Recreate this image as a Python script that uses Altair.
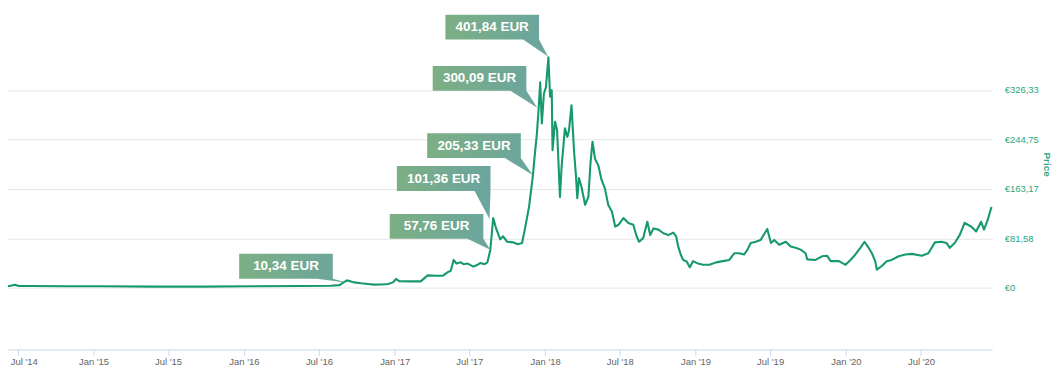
import altair as alt
import pandas as pd

# ---- price series (EUR) ----
dates_a = ["2014-05-24","2014-06-12","2014-06-24","2014-07-04","2014-08-05","2014-10-20","2015-01-21",
           "2015-05-24","2015-09-24","2016-01-18","2016-05-19","2016-07-30","2016-08-20","2016-08-30",
           "2016-09-07","2016-09-17","2016-09-24","2016-10-11","2016-10-28","2016-11-12","2016-11-29",
           "2016-12-16","2016-12-28"]
prices_a = [3, 3, 5, 3, 3, 2.5, 2.5, 2, 2, 2.5, 3, 3.5, 4.5, 9, 12.3, 10.5, 9, 7.5, 6.4, 5.3, 5.5, 6.4, 9]

dates_b = ["2017-01-04","2017-01-12","2017-02-10","2017-03-05","2017-03-22","2017-04-11","2017-04-28",
           "2017-05-10","2017-05-17","2017-05-24","2017-05-31","2017-06-10","2017-06-17","2017-06-27",
           "2017-07-11","2017-07-21","2017-07-28","2017-08-07","2017-08-14","2017-08-21","2017-08-28",
           "2017-09-04","2017-09-14","2017-09-21","2017-10-01","2017-10-15","2017-10-27","2017-11-06",
           "2017-11-14","2017-11-23","2017-12-02","2017-12-08","2017-12-12","2017-12-16","2017-12-20",
           "2017-12-24","2017-12-29"]
prices_b = [14.6, 11, 10.7, 10.7, 20.5, 20, 20, 26, 28, 46, 40, 42, 39, 40, 35, 38, 41, 39, 42, 62.8,
            115, 98, 80, 85, 76, 75, 72, 74, 101, 134, 183, 227, 254, 293, 339, 271, 320]

dates_c = ["2018-01-03","2018-01-09","2018-01-13","2018-01-17","2018-01-19","2018-01-25","2018-01-30",
           "2018-02-06","2018-02-10","2018-02-18","2018-02-24","2018-02-28","2018-03-06","2018-03-12",
           "2018-03-17","2018-03-20","2018-03-24","2018-03-30","2018-04-08","2018-04-16","2018-04-21",
           "2018-04-26","2018-05-02","2018-05-10","2018-05-18","2018-05-26","2018-06-03","2018-06-12",
           "2018-06-20","2018-06-28","2018-07-10","2018-07-22","2018-08-03","2018-08-11","2018-08-17",
           "2018-08-27","2018-09-06","2018-09-13","2018-09-21","2018-10-03","2018-10-15","2018-10-27",
           "2018-11-08","2018-11-15","2018-11-20","2018-11-26","2018-12-02","2018-12-10","2018-12-18",
           "2018-12-26"]
prices_c = [331, 380, 315, 326, 227, 274, 260, 150, 200, 263, 249, 260, 301, 227, 183, 148, 181, 167,
            137, 150, 205, 241, 213, 202, 178, 164, 137, 126, 101, 104, 115, 107, 104, 85, 76, 82, 109,
            87, 98, 96, 90, 87, 91, 85, 68, 55, 46, 44, 34, 44]

dates_d = ["2019-01-07","2019-01-19","2019-02-04","2019-02-20","2019-03-08","2019-03-24","2019-04-05",
           "2019-04-17","2019-04-29","2019-05-07","2019-05-15","2019-05-27","2019-06-08","2019-06-24",
           "2019-07-03","2019-07-11","2019-07-23","2019-08-08","2019-08-20","2019-09-01","2019-09-13",
           "2019-09-25","2019-09-29","2019-10-19","2019-11-04","2019-11-16","2019-11-25","2019-12-15",
           "2019-12-31"]
prices_d = [40, 38, 38, 42, 44, 46, 57, 57, 55, 63, 74, 76, 79, 97, 74, 79, 71, 76, 68, 66, 63, 57,
            47, 46, 52, 53, 44, 44, 38]

dates_e = ["2020-01-12","2020-01-24","2020-02-05","2020-02-15","2020-02-25","2020-03-04","2020-03-12",
           "2020-03-16","2020-03-28","2020-04-09","2020-04-21","2020-05-08","2020-05-24","2020-06-09",
           "2020-07-03","2020-07-19","2020-08-04","2020-08-20","2020-09-01","2020-09-09","2020-09-21",
           "2020-10-03","2020-10-15","2020-10-23","2020-10-31","2020-11-12","2020-11-24","2020-12-01",
           "2020-12-10","2020-12-18","2020-12-20"]
prices_e = [46, 55, 66, 76, 66, 57, 44, 30, 36, 44, 46, 52, 55, 56, 53, 57, 75, 76, 74, 66, 74, 87,
            107, 104, 101, 93, 109, 96, 112, 131, 133]

# ---- annotations ----
ann_labels = ["401,84 EUR", "300,09 EUR", "205,33 EUR", "101,36 EUR", "57,76 EUR", "10,34 EUR"]
ann_dates = ["2018-01-08", "2017-12-13", "2017-12-02", "2017-08-19", "2017-08-21", "2016-09-09"]
ann_prices = [381.5, 297, 186, 113.7, 62.8, 8.5]   # where each callout tip touches the line

# y-axis ticks
y_ticks = [0, 81.58, 163.17, 244.75, 326.33]

# ---- styles / layout ----
callout_offsets = [(9, 17), (11, 17), (12, 17), (-1, 28), (7, 11), (15, 4)]  # px, tip -> box bottom-right
BOX_W, BOX_H, TAIL_W = 94, 25, 16
LINE_COLOR = "#17996e"
LABEL_GREEN = "#2aa57f"
FONT = "Liberation Sans"

df = pd.DataFrame({"date": dates_a + dates_b + dates_c + dates_d + dates_e,
                   "price": prices_a + prices_b + prices_c + prices_d + prices_e})
ann_df = pd.DataFrame({"date": ann_dates, "price": ann_prices, "label": ann_labels})

x_scale = alt.Scale(type="utc",
                    domain=[alt.DateTime(year=2014, month=5, date=24, utc=True),
                            alt.DateTime(year=2020, month=12, date=21, utc=True)])
y_scale = alt.Scale(domain=[-101.5, 473.5], nice=False, zero=False)

tick_dates = [alt.DateTime(year=y, month=m, date=1, utc=True)
              for y in range(2014, 2021) for m in (1, 7) if not (y == 2014 and m == 1)]

x_axis = alt.Axis(values=tick_dates, labelExpr="utcFormat(datum.value, \"%b '%y\")",
                  grid=False, domainColor="#ccd6eb", tickColor="#ccd6eb", tickSize=6,
                  labelColor="#666666", labelFontSize=9.5, labelFont=FONT, labelPadding=1,
                  labelFlush=17, labelFlushOffset=7.5, title=None)
y_axis = alt.Axis(orient="right", values=y_ticks,
                  labelExpr="datum.value == 0 ? '€0' : '€' + replace(format(datum.value, '.2f'), '.', ',')",
                  grid=True, gridColor="#e6e6e6", domain=False, ticks=False, labelPadding=12,
                  labelColor=LABEL_GREEN, labelFontSize=9.5, labelFont=FONT, labelAlign="left",
                  title="Price", titleColor=LABEL_GREEN, titleFont=FONT, titleFontSize=10,
                  titleFontWeight="bold", titleAngle=90, titleX=54, titleY=164,
                  titleAlign="center", titleBaseline="middle")

line = alt.Chart(df).mark_line(color=LINE_COLOR, strokeWidth=2.1, strokeJoin="round").encode(
    x=alt.X("date:T", scale=x_scale, axis=x_axis),
    y=alt.Y("price:Q", scale=y_scale, axis=y_axis),
)

grad = alt.Gradient(gradient="linear",
                    stops=[alt.GradientStop(color="#7daf84", offset=0),
                           alt.GradientStop(color="#6aa59f", offset=1)],
                    x1=0, x2=1, y1=0, y2=0)

S = 100.0
layers = [line]
for i, (dx, dy) in enumerate(callout_offsets):
    r, b = -dx, -dy
    pts = [(0, 0), (r - TAIL_W, b), (r - BOX_W, b), (r - BOX_W, b - BOX_H), (r, b - BOX_H), (r, b)]
    path = "M" + " L".join(f"{px / S:.3f},{py / S:.3f}" for px, py in pts) + " Z"
    base = alt.Chart(ann_df.iloc[[i]]).encode(
        x=alt.X("date:T", scale=x_scale),
        y=alt.Y("price:Q", scale=y_scale),
    )
    box = base.mark_point(shape=path, size=4 * S * S, filled=True, fill=grad,
                          opacity=1, strokeWidth=0)
    txt = base.mark_text(dx=r - BOX_W / 2, dy=b - BOX_H / 2, align="center", baseline="middle",
                         font=FONT, fontSize=13.5, fontWeight="bold", color="white").encode(
        text="label:N")
    layers += [box, txt]

chart = alt.layer(*layers).properties(
    width=994, height=350,
    padding={"left": -8, "top": -8, "right": 1, "bottom": 0},
).configure_view(stroke=None)

chart.save("out.html", embed_options={"renderer": "svg", "actions": False})
